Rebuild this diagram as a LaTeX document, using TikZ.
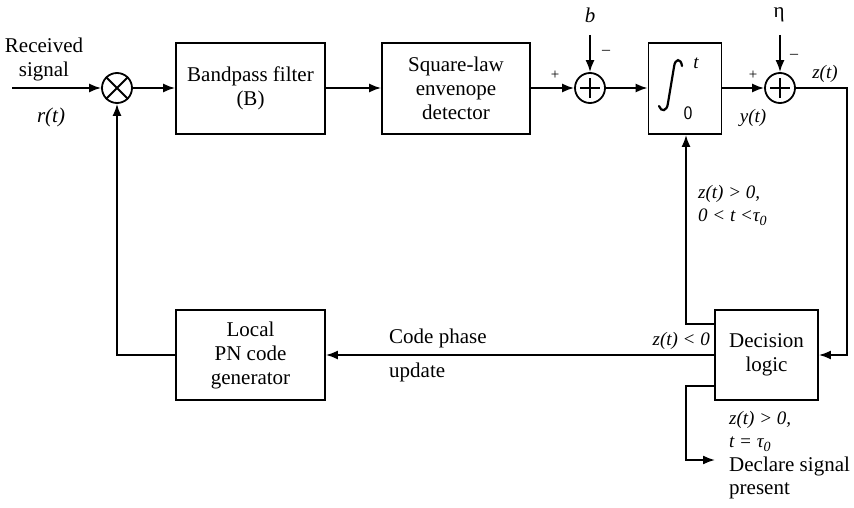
\documentclass[tikz,border=0pt]{standalone}
\usepackage{fontspec}
\setmainfont{Liberation Serif}
\usetikzlibrary{arrows.meta}
\begin{document}
\begin{tikzpicture}[x=1pt,y=-1pt,
  every node/.style={font=\fontsize{21}{24}\selectfont},
  blk/.style={draw,line width=1.8pt,minimum width=149pt,minimum height=91pt,align=center,inner sep=0pt},
  junc/.style={draw,circle,line width=1.8pt,minimum size=30pt,inner sep=0pt},
  wire/.style={line width=1.8pt},
  arr/.style={wire,-{Latex[length=12pt,width=9pt]}},
  lbl/.style={inner sep=0pt},
  cond/.style={inner sep=0pt,align=left,font=\fontsize{19}{23}\selectfont\itshape}
]
\useasboundingbox (0,0) rectangle (854,508);

% blocks on the forward path
\node[junc] (mult) at (117,88) {};
\draw[wire] (mult.north west) -- (mult.south east) (mult.north east) -- (mult.south west);
\node[blk] (bpf) at (250.5,88.5) {Bandpass filter\\(B)};
\node[blk,minimum width=148pt] (sqr) at (456,88.5) {Square-law\\envenope\\detector};
\node[junc] (sum1) at (590,88) {};
\draw[wire] ([xshift=-10pt]sum1.center) -- ([xshift=10pt]sum1.center)
            ([yshift=-10pt]sum1.center) -- ([yshift=10pt]sum1.center);
\node[blk,minimum width=73pt] (integ) at (685,88.5) {};
% integral sign with its limits
\draw[line width=2.2pt,line cap=round]
  (682,66) .. controls (681,58) and (675,58) .. (674,67)
  -- (668,103) .. controls (667,112) and (661,112) .. (659,106);
\node[lbl,font=\fontsize{19}{19}\selectfont\itshape] (uplim) at (696,63) {t};
\node[lbl,font=\fontsize{19}{19}\sffamily] (lolim) at (688,113) {0};
\node[junc] (sum2) at (780,88) {};
\draw[wire] ([xshift=-10pt]sum2.center) -- ([xshift=10pt]sum2.center)
            ([yshift=-10pt]sum2.center) -- ([yshift=10pt]sum2.center);

% feedback blocks
\node[blk,minimum width=103pt,minimum height=90pt] (dec) at (766.5,355) {Decision\\logic};
\node[blk,minimum height=90pt] (pn) at (250.5,355) {Local\\PN code\\generator};

% input
\coordinate (in) at (12,88);
\node[lbl,align=center] (rx) at (44,59) {Received\\signal};
\node[lbl] (rt) at (51,117) {\textit{r(t)}};
\draw[arr] (in) -- (mult);

% forward connections
\draw[arr] (mult) -- (bpf.west |- mult);
\draw[arr] (bpf.east |- mult) -- (sqr.west |- mult);
\draw[arr] (sqr.east |- sum1) -- (sum1);
\draw[arr] (sum1) -- (integ.west |- sum1);
\draw[arr] (integ.east |- sum2) -- (sum2);

% thresholds
\node[lbl,font=\fontsize{21}{21}\selectfont\itshape] (b) at (590,15) {b};
\coordinate (bin) at (590,35);
\draw[arr] (bin) -- (sum1);
\node[lbl,font=\fontsize{16}{16}\selectfont] (m1) at (606,52) {–};
\node[lbl,font=\fontsize{15}{15}\selectfont] (p1) at (555,75) {+};
\node[lbl] (eta) at (779,15) {η};
\coordinate (etain) at (780,35);
\draw[arr] (etain) -- (sum2);
\node[lbl,font=\fontsize{16}{16}\selectfont] (m2) at (794,56) {–};
\node[lbl,font=\fontsize{15}{15}\selectfont] (p2) at (753,75) {+};
\node[lbl,font=\fontsize{19}{19}\selectfont\itshape] (yt) at (753,118) {y(t)};
\node[lbl,font=\fontsize{19}{19}\selectfont\itshape] (zt) at (825,74) {z(t)};

% decision path
\coordinate (zr) at (847,88);
\draw[arr] (sum2) -- (zr) |- (dec.east);
\coordinate (decup) at (715,324);
\coordinate (fb) at (686,324);
\draw[arr] (decup) -- (fb) -- (fb |- integ.south);
\node[cond,anchor=west] (c1) at (698,205) {z(t) > 0,\\0 < t <τ\raisebox{-4pt}{\fontsize{14}{14}\selectfont 0}};
\draw[arr] (dec.west) -- (pn.east |- dec.west);
\node[lbl,anchor=east,font=\fontsize{19}{19}\selectfont\itshape] (zlt) at (710,341) {z(t) < 0};
\node[lbl,anchor=west] (cp) at (389,338) {Code phase};
\node[lbl,anchor=west] (upd) at (389,372) {update};
\coordinate (pnl) at (117,355);
\draw[arr] (pn.west) -- (pnl) -- (mult);

% detection output
\coordinate (decdn) at (715,386);
\coordinate (dk) at (686,386);
\coordinate (dd) at (686,460);
\coordinate (ddend) at (715,460);
\draw[arr] (decdn) -- (dk) -- (dd) -- (ddend);
\node[cond,anchor=north west] (c2) at (729,411) {z(t) > 0,\\t = τ\raisebox{-4pt}{\fontsize{14}{14}\selectfont 0}};
\node[lbl,anchor=north west,align=left,font=\fontsize{21}{23}\selectfont] (decl) at (729,457) {Declare signal\\present};
\end{tikzpicture}
\end{document}
